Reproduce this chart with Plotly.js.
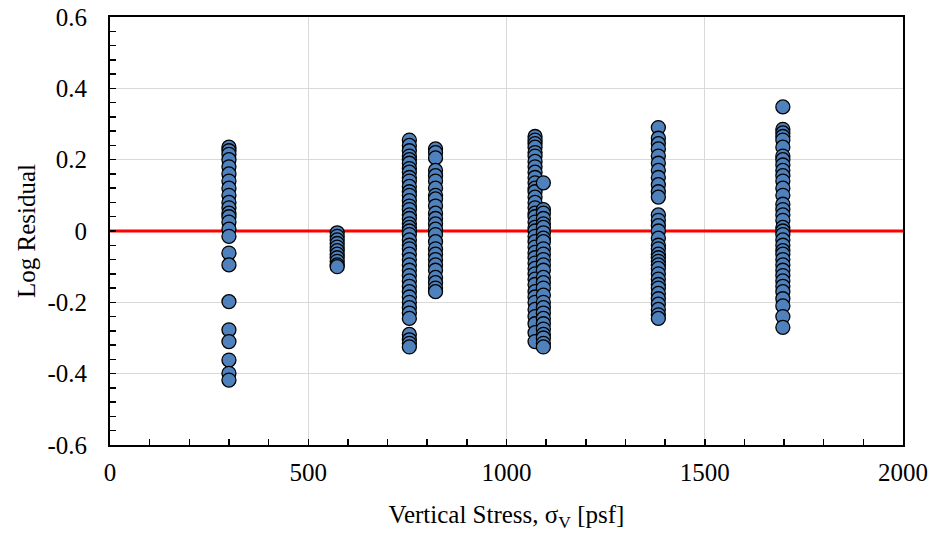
<!DOCTYPE html>
<html>
<head>
<meta charset="utf-8">
<script src="https://cdn.plot.ly/plotly-3.0.1.min.js"></script>
<style>html,body{margin:0;padding:0;background:#fff;}#chart{width:930px;height:538px;}</style>
</head>
<body>
<div id="chart"></div>
<script>
// Vertical stress levels (psf) of each column of points
const stressLevels = [300, 573, 755, 821, 1072, 1093, 1383, 1697];

// Log residuals read for each stress level
const resid300 = [0.235, 0.225, 0.215, 0.20, 0.18, 0.16, 0.14, 0.12, 0.10, 0.08, 0.065, 0.05, 0.04, 0.025, 0.005, -0.015, -0.062, -0.095, -0.198, -0.277, -0.31, -0.362, -0.399, -0.418];
const resid573 = [-0.005, -0.015, -0.025, -0.035, -0.045, -0.055, -0.065, -0.075, -0.085, -0.095, -0.1];
const resid755 = [0.255, 0.24, 0.225, 0.21, 0.20, 0.19, 0.175, 0.165, 0.15, 0.14, 0.125, 0.11, 0.10, 0.085, 0.07, 0.06, 0.045, 0.035, 0.02, 0.01, 0.0, -0.01, -0.025, -0.04, -0.05, -0.065, -0.08, -0.095, -0.11, -0.125, -0.14, -0.155, -0.17, -0.185, -0.2, -0.215, -0.23, -0.245, -0.29, -0.305, -0.315, -0.325];
const resid821 = [0.23, 0.22, 0.205, 0.17, 0.155, 0.14, 0.12, 0.10, 0.09, 0.07, 0.05, 0.035, 0.02, 0.005, -0.01, -0.03, -0.05, -0.065, -0.08, -0.095, -0.11, -0.13, -0.145, -0.16, -0.17];
const resid1072 = [0.265, 0.255, 0.245, 0.235, 0.22, 0.21, 0.195, 0.18, 0.165, 0.15, 0.135, 0.12, 0.11, 0.095, 0.08, 0.065, 0.05, 0.04, 0.025, 0.01, 0.0, -0.015, -0.03, -0.045, -0.06, -0.075, -0.09, -0.105, -0.12, -0.135, -0.15, -0.17, -0.185, -0.2, -0.22, -0.24, -0.26, -0.285, -0.31];
const resid1093 = [0.135, 0.06, 0.05, 0.035, 0.02, 0.01, -0.005, -0.02, -0.03, -0.05, -0.065, -0.08, -0.095, -0.11, -0.13, -0.145, -0.16, -0.18, -0.2, -0.215, -0.23, -0.245, -0.26, -0.275, -0.29, -0.30, -0.315, -0.325];
const resid1383 = [0.29, 0.26, 0.245, 0.23, 0.21, 0.19, 0.17, 0.15, 0.13, 0.11, 0.095, 0.045, 0.03, 0.015, 0.0, -0.02, -0.04, -0.05, -0.065, -0.075, -0.085, -0.095, -0.105, -0.12, -0.135, -0.15, -0.16, -0.175, -0.19, -0.205, -0.22, -0.235, -0.245];
const resid1697 = [0.348, 0.285, 0.275, 0.265, 0.255, 0.235, 0.21, 0.2, 0.185, 0.17, 0.155, 0.14, 0.12, 0.10, 0.075, 0.06, 0.045, 0.03, 0.01, 0.0, -0.01, -0.025, -0.04, -0.055, -0.065, -0.08, -0.095, -0.11, -0.125, -0.14, -0.155, -0.17, -0.19, -0.21, -0.24, -0.27];

const residualGroups = [resid300, resid573, resid755, resid821, resid1072, resid1093, resid1383, resid1697];

// Zero reference line
const zeroLineX = [0, 2000];
const zeroLineY = [0, 0];

// Tick labels
const xTickVals = [0, 500, 1000, 1500, 2000];
const xTickText = ["0", "500", "1000", "1500", "2000"];
const yTickVals = [0.6, 0.4, 0.2, 0, -0.2, -0.4, -0.6];
const yTickText = ["0.6", "0.4", "0.2", "0", "-0.2", "-0.4", "-0.6"];

const xs = [], ys = [];
residualGroups.forEach((g, i) => g.forEach(v => { xs.push(stressLevels[i]); ys.push(v); }));

const FAMILY = "Liberation Serif, Times New Roman, serif";
const mkFont = () => ({family: FAMILY, size: 25, color: "#000"});

const traces = [
  {x: zeroLineX, y: zeroLineY, mode: "lines", line: {color: "#ff0000", width: 3}, hoverinfo: "skip", showlegend: false},
  {x: xs, y: ys, mode: "markers", type: "scatter", showlegend: false,
   marker: {size: 14, color: "#4f81bd", line: {color: "#000", width: 1.3}}}
];

const layout = {
  width: 930, height: 538,
  margin: {l: 110, r: 27, t: 17, b: 93},
  paper_bgcolor: "#fff", plot_bgcolor: "#fff",
  font: mkFont(),
  showlegend: false,
  xaxis: {
    range: [0, 2000], tickvals: xTickVals, ticktext: xTickText,
    showgrid: true, gridcolor: "#d9d9d9", gridwidth: 1,
    showline: true, linecolor: "#000", linewidth: 2, mirror: true,
    ticks: "inside", ticklen: 6, tickwidth: 1.5, tickcolor: "#000",
    minor: {dtick: 100, ticks: "inside", ticklen: 6, tickwidth: 1.5, tickcolor: "#000", showgrid: false},
    zeroline: false, ticklabelstandoff: 4,
    tickfont: mkFont(),
    title: {text: "Vertical Stress, σ<sub>V</sub> [psf]", font: mkFont(), standoff: 20}
  },
  yaxis: {
    range: [-0.6, 0.6], tickvals: yTickVals, ticktext: yTickText,
    showgrid: true, gridcolor: "#d9d9d9", gridwidth: 1,
    showline: true, linecolor: "#000", linewidth: 2, mirror: true,
    ticks: "inside", ticklen: 6, tickwidth: 1.5, tickcolor: "#000",
    minor: {dtick: 0.04, ticks: "inside", ticklen: 6, tickwidth: 1.5, tickcolor: "#000", showgrid: false},
    zeroline: false, ticklabelstandoff: 16,
    tickfont: mkFont(),
    title: {text: "Log Residual", font: mkFont(), standoff: 5}
  }
};

Plotly.newPlot("chart", traces, layout, {staticPlot: true, displayModeBar: false});
</script>
</body>
</html>
